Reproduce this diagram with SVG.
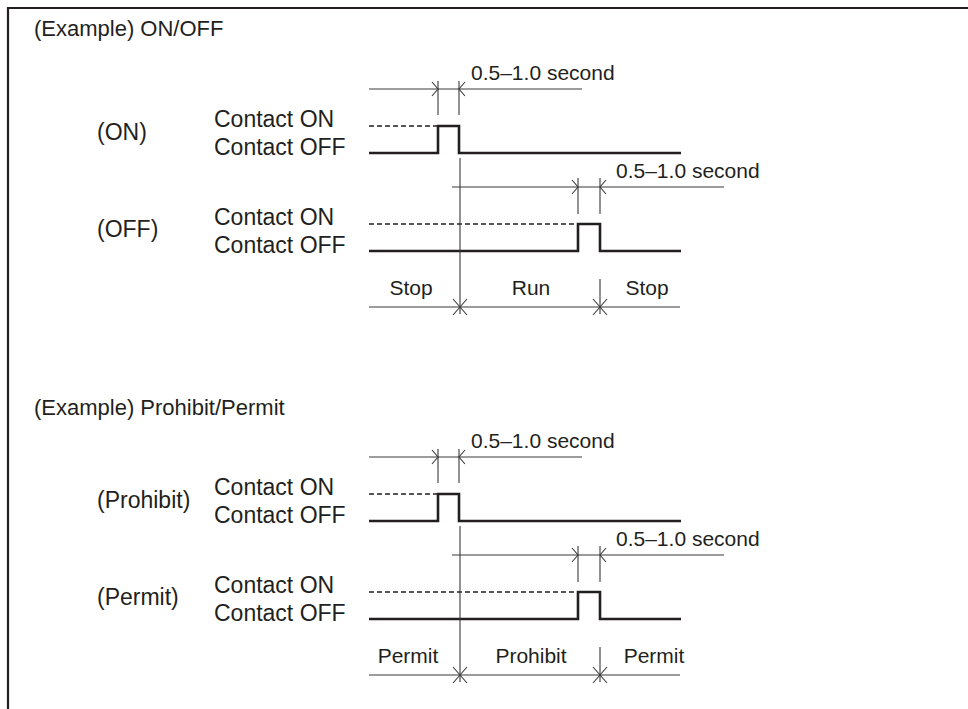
<svg xmlns="http://www.w3.org/2000/svg" width="968" height="709" viewBox="0 0 968 709">
<style>
text{font-family:"Liberation Sans",Arial,sans-serif;font-size:21px;fill:#231f20}
.t{font-size:22px}
.l{font-size:23px}
.m{text-anchor:middle}
.thin{fill:none;stroke:#3a3a3a;stroke-width:1.1}
.sig{fill:none;stroke:#231f20;stroke-width:2.6;stroke-linejoin:miter}
.dash{fill:none;stroke:#231f20;stroke-width:1.6;stroke-dasharray:5 3}
.frame{fill:none;stroke:#231f20;stroke-width:2.2}
</style>
<defs>
<g id="dimL"><path class="thin" d="M-6,-7 L0,0 L-6,7"/></g>
<g id="dimR"><path class="thin" d="M6,-7 L0,0 L6,7"/></g>
<g id="xm"><path class="thin" d="M-7,-8 L7,8 M-7,8 L7,-8"/></g>
</defs>
<path class="frame" d="M8,709 V8 H968"/>

<g id="section-onoff">
<text class="t" x="34" y="36">(Example) ON/OFF</text>
<g id="on-signal">
<text class="l" x="97" y="140">(ON)</text>
<text class="l" x="214" y="127">Contact ON</text>
<text class="l" x="214" y="155">Contact OFF</text>
<path class="dash" d="M369,126 H438"/>
<path class="sig" d="M369,153 H438 V126 H459 V153 H681"/>
</g>
<g id="off-signal">
<text class="l" x="97" y="237">(OFF)</text>
<text class="l" x="214" y="225">Contact ON</text>
<text class="l" x="214" y="253">Contact OFF</text>
<path class="dash" d="M369,224 H578"/>
<path class="sig" d="M369,251 H578 V224 H600 V251 H681"/>
</g>
<g id="state-labels-1">
<text class="m" x="411" y="295">Stop</text>
<text class="m" x="531" y="295">Run</text>
<text class="m" x="647" y="295">Stop</text>
</g>
</g>

<g id="section-prohibit">
<text class="t" x="34" y="415">(Example) Prohibit/Permit</text>
<g id="prohibit-signal">
<text class="l" x="97" y="508">(Prohibit)</text>
<text class="l" x="214" y="495">Contact ON</text>
<text class="l" x="214" y="523">Contact OFF</text>
<path class="dash" d="M369,494 H438"/>
<path class="sig" d="M369,521 H438 V494 H459 V521 H681"/>
</g>
<g id="permit-signal">
<text class="l" x="97" y="605">(Permit)</text>
<text class="l" x="214" y="593">Contact ON</text>
<text class="l" x="214" y="621">Contact OFF</text>
<path class="dash" d="M369,592 H578"/>
<path class="sig" d="M369,619 H578 V592 H600 V619 H681"/>
</g>
<g id="state-labels-2">
<text class="m" x="408" y="663">Permit</text>
<text class="m" x="531" y="663">Prohibit</text>
<text class="m" x="654" y="663">Permit</text>
</g>
</g>

<g id="connectors">
<path class="thin" d="M369,89 H582 M438,81 V115 M459,81 V115"/>
<use href="#dimL" x="438" y="89"/><use href="#dimR" x="459" y="89"/>
<text x="471" y="80">0.5–1.0 second</text>
<path class="thin" d="M452,187 H724 M578,178 V214 M600,178 V214"/>
<use href="#dimL" x="578" y="187"/><use href="#dimR" x="600" y="187"/>
<text x="616" y="178">0.5–1.0 second</text>
<path class="thin" d="M460,158 V314 M600,279 V314 M369,307 H680"/>
<use href="#xm" x="460" y="307"/><use href="#xm" x="600" y="307"/>
<path class="thin" d="M369,457 H582 M438,449 V483 M459,449 V483"/>
<use href="#dimL" x="438" y="457"/><use href="#dimR" x="459" y="457"/>
<text x="471" y="448">0.5–1.0 second</text>
<path class="thin" d="M452,555 H724 M578,546 V582 M600,546 V582"/>
<use href="#dimL" x="578" y="555"/><use href="#dimR" x="600" y="555"/>
<text x="616" y="546">0.5–1.0 second</text>
<path class="thin" d="M460,526 V682 M600,647 V682 M369,675 H680"/>
<use href="#xm" x="460" y="675"/><use href="#xm" x="600" y="675"/>
</g>
</svg>
